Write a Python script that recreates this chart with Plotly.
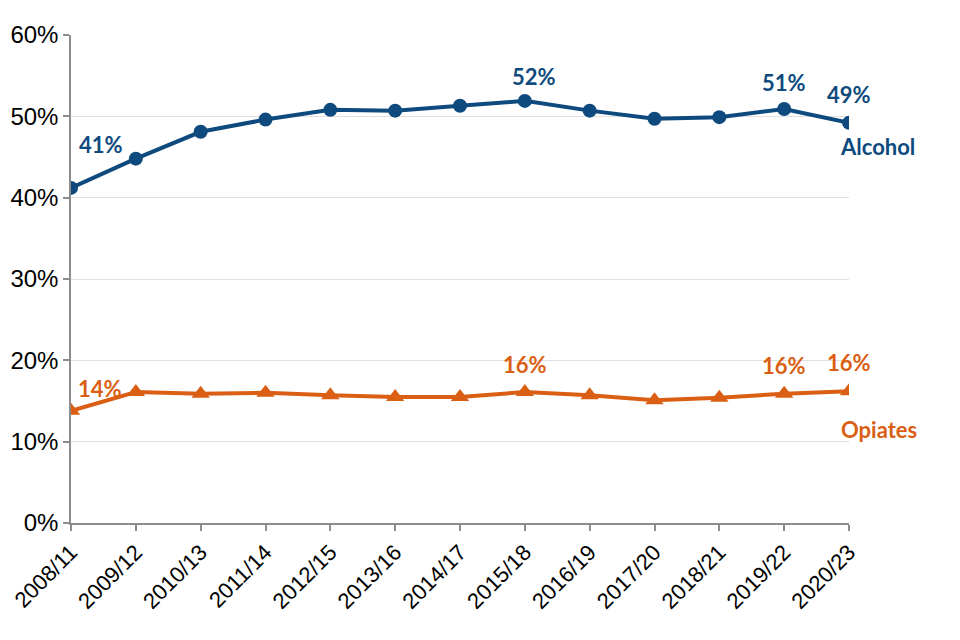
import plotly.graph_objects as go

years = ["2008/11", "2009/12", "2010/13", "2011/14", "2012/15", "2013/16", "2014/17",
         "2015/18", "2016/19", "2017/20", "2018/21", "2019/22", "2020/23"]
alcohol = [41.2, 44.8, 48.1, 49.6, 50.8, 50.7, 51.3, 51.9, 50.7, 49.7, 49.9, 50.9, 49.2]
opiates = [13.8, 16.1, 15.9, 16.0, 15.7, 15.5, 15.5, 16.1, 15.7, 15.1, 15.4, 15.9, 16.2]
y_ticks = [0, 10, 20, 30, 40, 50, 60]
y_ticktext = ["0%", "10%", "20%", "30%", "40%", "50%", "60%"]

blue = "#0E4A7E"
orange = "#DA5F14"

fig = go.Figure()
fig.add_trace(go.Scatter(x=years, y=alcohol, mode="lines+markers", name="Alcohol",
                         line=dict(color=blue, width=4),
                         marker=dict(symbol="circle", size=14, color=blue)))
fig.add_trace(go.Scatter(x=years, y=opiates, mode="lines+markers", name="Opiates",
                         line=dict(color=orange, width=4),
                         marker=dict(symbol="triangle-up", size=16, color=orange)))

lab_font = dict(family="Lato, Open Sans, sans-serif", size=22)
annotations = []
# (index, xshift, yshift)
alc_labels = [(0, 30, 43), (7, 9, 24), (11, 0, 27), (12, 0, 28)]
for i, xs, ys in alc_labels:
    annotations.append(dict(x=years[i], y=alcohol[i], text=f"{round(alcohol[i])}%",
                            showarrow=False, xshift=xs, yshift=ys,
                            font=dict(color=blue, weight="bold", **lab_font)))
annotations.append(dict(x=years[12], y=alcohol[12], text="Alcohol", showarrow=False,
                        xshift=28, yshift=-24, font=dict(color=blue, weight="bold", **lab_font)))
opi_labels = [(0, 29, 22), (7, 0, 28), (11, 0, 28), (12, 0, 29)]
for i, xs, ys in opi_labels:
    annotations.append(dict(x=years[i], y=opiates[i], text=f"{round(opiates[i])}%",
                            showarrow=False, xshift=xs, yshift=ys,
                            font=dict(color=orange, weight="bold", **lab_font)))
annotations.append(dict(x=years[12], y=opiates[12], text="Opiates", showarrow=False,
                        xshift=30, yshift=-38, font=dict(color=orange, weight="bold", **lab_font)))

fig.update_layout(
    width=960, height=640,
    margin=dict(l=63, r=119, t=27, b=125),
    plot_bgcolor="white", paper_bgcolor="white",
    showlegend=False,
    annotations=annotations,
    font=dict(family="Liberation Sans, Arial, sans-serif", color="#000000"),
)
fig.update_xaxes(type="category", range=[0, 12], tickangle=-45, automargin=False,
                 tickfont=dict(size=22), showgrid=False,
                 showline=True, linecolor="#8C8C8C", linewidth=1.5,
                 ticks="outside", ticklen=6, tickcolor="#8C8C8C", tickwidth=1.5)
fig.update_yaxes(range=[0, 60], tickvals=y_ticks, ticktext=y_ticktext, automargin=False,
                 tickfont=dict(size=24), showgrid=True, gridcolor="#E0E0E0", gridwidth=1,
                 showline=True, linecolor="#8C8C8C", linewidth=1.5,
                 ticks="outside", ticklen=6, tickcolor="#8C8C8C", tickwidth=1.5,
                 zeroline=False)

fig.write_html("out.html")
